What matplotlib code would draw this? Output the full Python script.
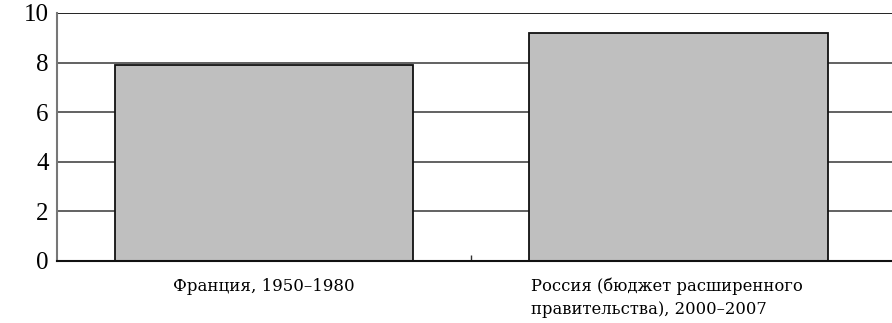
import matplotlib.pyplot as plt

categories = ['Франция, 1950–1980', 'Россия (бюджет расширенного\nправительства), 2000–2007']
values = [7.9, 9.2]
yticks = [0, 2, 4, 6, 8, 10]

fig = plt.figure(figsize=(8.92, 3.23), dpi=100)
ax = fig.add_axes([0.064, 0.192, 0.936, 0.768])

x = list(range(len(categories)))
ax.bar(x, values, width=0.72, color='#bfbfbf', edgecolor='#111111', linewidth=1.3, zorder=3)

# horizontal grid
for v in yticks[1:]:
    ax.axhline(v, color='#111111' if v == 10 else '#555555', linewidth=1.3, zorder=1)

ax.set_xlim(-0.5, 1.515)
ax.set_ylim(0, 10)
ax.set_yticks(yticks)
ax.set_yticklabels([str(v) for v in yticks], fontfamily='Liberation Serif', fontsize=18)
ax.tick_params(axis='y', length=0, pad=6)

# separator tick between categories
ax.set_xticks([0.5])
ax.set_xticklabels([''])
ax.tick_params(axis='x', direction='in', length=4, width=1, color='#333333')

for s in ['top', 'right']:
    ax.spines[s].set_visible(False)
ax.spines['left'].set_color('#777777')
ax.spines['left'].set_linewidth(1.5)
ax.spines['bottom'].set_color('#111111')
ax.spines['bottom'].set_linewidth(1.5)
ax.spines['bottom'].set_zorder(4)

# category labels, one text per line
ax.text(0, -1.21, categories[0], ha='center', va='baseline', fontsize=12,
        fontfamily='DejaVu Serif')
for i, line in enumerate(categories[1].split('\n')):
    ax.text(0.644, -1.21 - i * 0.93, line, ha='left', va='baseline', fontsize=11.8,
            fontfamily='DejaVu Serif')

fig.savefig('out.png', dpi=100)
